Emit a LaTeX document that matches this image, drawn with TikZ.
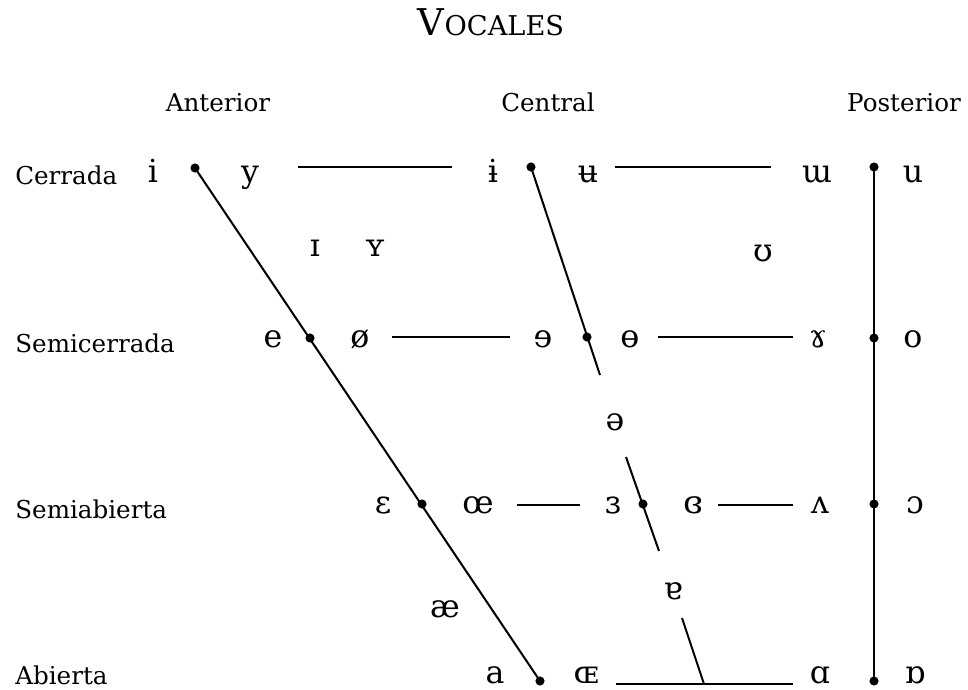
\documentclass[tikz,border=0pt]{standalone}
\usepackage{fontspec}
\setmainfont{DejaVu Serif}

\begin{document}
\begin{tikzpicture}[x=0.02cm,y=-0.02cm,
  linea/.style={line width=1.15pt},
  punto/.style={fill},
  grado/.style={anchor=base west,inner sep=0pt,font=\fontsize{14}{16}\selectfont},
  columna/.style={anchor=base,inner sep=0pt,font=\fontsize{14}{16}\selectfont},
  vocal/.style={anchor=base,inner sep=0pt,font=\fontsize{18}{20}\selectfont}]

\useasboundingbox (0,0) rectangle (968,690);

\coordinate (titulo) at (491,35);
\coordinate (anterior) at (218,111);
\coordinate (central) at (548,111);
\coordinate (posterior) at (904,111);

\coordinate (cerrada) at (15,184);
\coordinate (semicerrada) at (15,352);
\coordinate (semiabierta) at (15,518);
\coordinate (abierta) at (15,684);

% puntos de la linea anterior
\coordinate (i-punto) at (195,168);
\coordinate (e-punto) at (310,338);
\coordinate (epsilon-punto) at (422,504);
\coordinate (a-punto) at (540,681);

% puntos y tramos de la linea central
\coordinate (ibarra-punto) at (531,167);
\coordinate (central-tramo-1) at (600,375);
\coordinate (e-invertida-punto) at (587,337);
\coordinate (central-tramo-2-arriba) at (626,457);
\coordinate (central-tramo-2-abajo) at (659,551);
\coordinate (epsilon-invertida-punto) at (643,504);
\coordinate (central-tramo-3-arriba) at (682,618);
\coordinate (central-tramo-3-abajo) at (704,684);

% puntos de la linea posterior
\coordinate (u-punto) at (874,167);
\coordinate (o-punto) at (874,338);
\coordinate (o-abierta-punto) at (874,504);
\coordinate (a-posterior-punto) at (874,681);

% lineas horizontales
\coordinate (cerrada-izquierda-a) at (298,167);
\coordinate (cerrada-izquierda-b) at (452,167);
\coordinate (cerrada-derecha-a) at (615,167);
\coordinate (cerrada-derecha-b) at (771,167);
\coordinate (semicerrada-izquierda-a) at (392,337);
\coordinate (semicerrada-izquierda-b) at (510,337);
\coordinate (semicerrada-derecha-a) at (658,337);
\coordinate (semicerrada-derecha-b) at (793,337);
\coordinate (semiabierta-izquierda-a) at (517,505);
\coordinate (semiabierta-izquierda-b) at (580,505);
\coordinate (semiabierta-derecha-a) at (718,505);
\coordinate (semiabierta-derecha-b) at (793,505);
\coordinate (abierta-a) at (616,684);
\coordinate (abierta-b) at (793,684);

\draw [linea] (i-punto) -- (a-punto);
\draw [linea] (ibarra-punto) -- (central-tramo-1);
\draw [linea] (central-tramo-2-arriba) -- (central-tramo-2-abajo);
\draw [linea] (central-tramo-3-arriba) -- (central-tramo-3-abajo);
\draw [linea] (u-punto) -- (a-posterior-punto);

\draw [linea] (cerrada-izquierda-a) -- (cerrada-izquierda-b);
\draw [linea] (cerrada-derecha-a) -- (cerrada-derecha-b);
\draw [linea] (semicerrada-izquierda-a) -- (semicerrada-izquierda-b);
\draw [linea] (semicerrada-derecha-a) -- (semicerrada-derecha-b);
\draw [linea] (semiabierta-izquierda-a) -- (semiabierta-izquierda-b);
\draw [linea] (semiabierta-derecha-a) -- (semiabierta-derecha-b);
\draw [linea] (abierta-a) -- (abierta-b);

\foreach \p in {i-punto,e-punto,epsilon-punto,a-punto,ibarra-punto,e-invertida-punto,epsilon-invertida-punto,u-punto,o-punto,o-abierta-punto,a-posterior-punto}
  \fill [punto] (\p) circle (2.6pt);

\node [columna] (titulo-texto) at (titulo) {{\fontsize{21}{22}\selectfont V}{\fontsize{15.5}{17}\selectfont OCALES}};
\node [columna] (anterior-texto) at (anterior) {Anterior};
\node [columna] (central-texto) at (central) {Central};
\node [columna] (posterior-texto) at (posterior) {Posterior};

\node [grado] (cerrada-texto) at (cerrada) {Cerrada};
\node [grado] (semicerrada-texto) at (semicerrada) {Semicerrada};
\node [grado] (semiabierta-texto) at (semiabierta) {Semiabierta};
\node [grado] (abierta-texto) at (abierta) {Abierta};

\node [vocal] (v-i) at (153,182) {i};
\node [vocal] (v-y) at (250,182) {y};
\node [vocal] (v-ibarra) at (493,182) {ɨ};
\node [vocal] (v-ubarra) at (588,182) {ʉ};
\node [vocal] (v-m-invertida) at (817,182) {ɯ};
\node [vocal] (v-u) at (913,182) {u};

\node [vocal] (v-i-pequena) at (315,256) {ɪ};
\node [vocal] (v-y-pequena) at (375,256) {ʏ};
\node [vocal] (v-upsilon) at (763,261) {ʊ};

\node [vocal] (v-e) at (273,347) {e};
\node [vocal] (v-o-barrada) at (360,347) {ø};
\node [vocal] (v-e-invertida) at (543,347) {ɘ};
\node [vocal] (v-o-barra) at (630,347) {ɵ};
\node [vocal] (v-gamma) at (818,347) {ɤ};
\node [vocal] (v-o) at (913,347) {o};

\node [vocal] (v-schwa) at (615,430) {ə};

\node [vocal] (v-epsilon) at (383,513) {ɛ};
\node [vocal] (v-oe) at (478,513) {œ};
\node [vocal] (v-epsilon-invertida) at (613,513) {ɜ};
\node [vocal] (v-epsilon-cerrada) at (693,513) {ɞ};
\node [vocal] (v-v-invertida) at (820,513) {ʌ};
\node [vocal] (v-o-abierta) at (915,513) {ɔ};

\node [vocal] (v-a-invertida) at (673,599) {ɐ};
\node [vocal] (v-ae) at (445,617) {æ};

\node [vocal] (v-a) at (495,683) {a};
\node [vocal] (v-oe-mayuscula) at (586,683) {ɶ};
\node [vocal] (v-alfa) at (820,683) {ɑ};
\node [vocal] (v-alfa-invertida) at (915,683) {ɒ};

\end{tikzpicture}
\end{document}
